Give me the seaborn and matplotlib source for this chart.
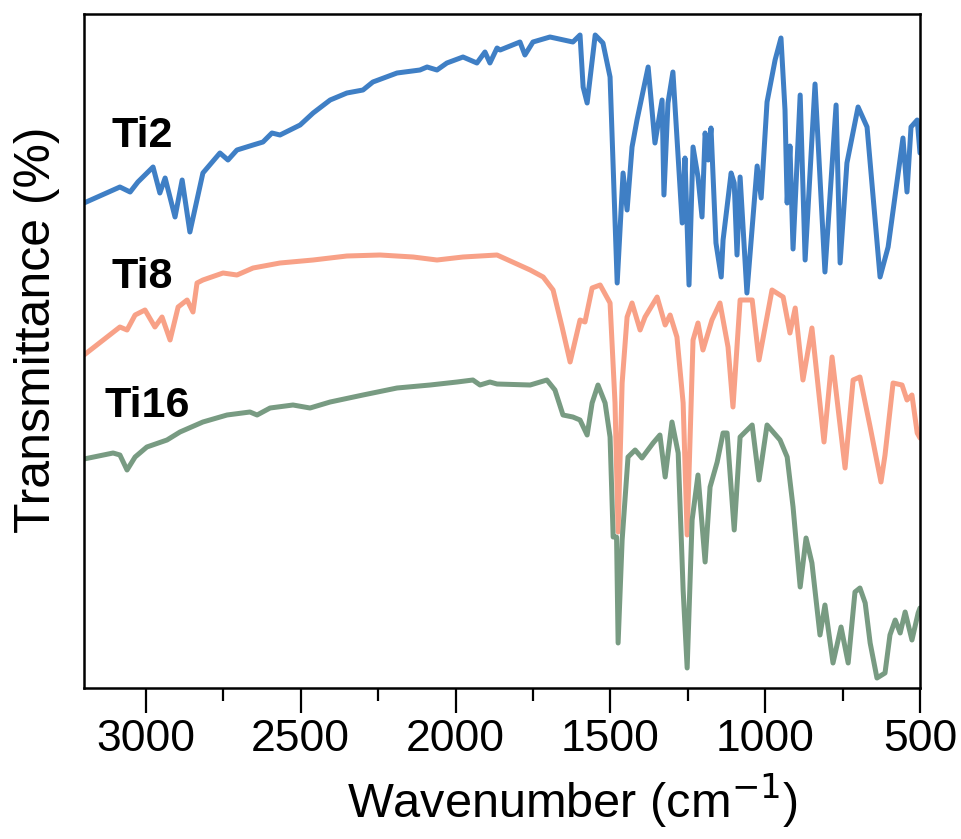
import numpy as np
import pandas as pd
import matplotlib
matplotlib.use("Agg")
import matplotlib.pyplot as plt
import seaborn as sns

# ---------------- data (arbitrary units) ----------------
ti2_wn = [3200, 3084, 3051, 3026, 2977, 2955, 2938, 2906, 2883, 2858, 2816, 2761, 2735, 2706,
          2654, 2622, 2593, 2567, 2502, 2460, 2405, 2351, 2299, 2267, 2189, 2115, 2092, 2060,
          2028, 1976, 1931, 1905, 1889, 1866, 1856, 1792, 1776, 1750, 1695, 1621, 1598, 1588,
          1575, 1549, 1524, 1501, 1478, 1459, 1446, 1430, 1414, 1378, 1356, 1333, 1327, 1314,
          1298, 1268, 1259, 1246, 1233, 1217, 1204, 1194, 1184, 1175, 1159, 1142, 1136, 1110,
          1100, 1091, 1081, 1059, 1026, 1013, 994, 968, 949, 936, 929, 920, 910, 887, 871, 839,
          807, 771, 758, 736, 700, 671, 629, 603, 555, 542, 529, 509, 500]
ti2_t = [485, 501, 496, 506, 521, 495, 510, 471, 508, 456, 515, 535, 528, 538,
         543, 546, 555, 553, 563, 575, 588, 595, 598, 606, 615, 618, 621, 618,
         625, 631, 625, 636, 625, 640, 638, 646, 633, 646, 651, 646, 653, 601,
         585, 653, 645, 611, 405, 515, 478, 541, 568, 621, 545, 588, 493, 585,
         616, 465, 530, 403, 541, 511, 471, 555, 528, 560, 445, 411, 448, 515,
         505, 433, 511, 395, 522, 490, 586, 628, 650, 578, 485, 542, 439, 593, 428, 604,
         416, 583, 425, 525, 581, 561, 411, 441, 550, 496, 561, 568, 535]

ti8_wn = [3200, 3084, 3061, 3035, 3003, 2971, 2948, 2922, 2896, 2867, 2848, 2835, 2816, 2751,
          2706, 2654, 2567, 2460, 2351, 2244, 2137, 2060, 1976, 1866, 1759, 1717, 1685, 1656,
          1630, 1598, 1582, 1559, 1533, 1501, 1485, 1475, 1462, 1446, 1430, 1404, 1388, 1349,
          1323, 1307, 1285, 1265, 1252, 1233, 1217, 1201, 1172, 1146, 1120, 1104, 1081, 1042,
          1020, 978, 942, 920, 903, 878, 849, 810, 784, 742, 716, 694, 661, 626, 613, 587,
          558, 542, 526, 509, 500]
ti8_t = [333, 361, 358, 373, 378, 361, 371, 348, 381, 388, 376, 405, 408, 415,
         413, 420, 425, 428, 432, 433, 431, 428, 431, 433, 418, 411, 398, 361,
         326, 368, 366, 400, 403, 385, 285, 156, 305, 371, 385, 358, 371, 391,
         363, 373, 351, 285, 153, 348, 365, 338, 368, 385, 341, 281, 388, 388,
         328, 398, 391, 355, 380, 308, 360, 246, 331, 220, 308, 311, 261, 206, 233, 305,
         303, 288, 293, 255, 250]

ti16_wn = [3200, 3106, 3084, 3061, 3035, 2997, 2932, 2890, 2816, 2738, 2664, 2641, 2599, 2525,
           2470, 2405, 2299, 2189, 2082, 1995, 1944, 1921, 1889, 1866, 1759, 1705, 1679, 1653,
           1621, 1598, 1575, 1559, 1540, 1517, 1501, 1491, 1480, 1475, 1462, 1443, 1420, 1398,
           1362, 1340, 1323, 1301, 1281, 1265, 1252, 1236, 1217, 1194, 1178, 1155, 1136, 1123,
           1100, 1081, 1042, 1020, 994, 952, 929, 910, 887, 868, 849, 823, 807, 781, 755, 732,
           710, 694, 677, 661, 639, 613, 597, 580, 564, 548, 526, 506, 500]
ti16_t = [229, 235, 233, 218, 231, 241, 248, 256, 266, 273, 276, 273, 280, 283,
          280, 286, 293, 300, 303, 306, 308, 303, 306, 304, 303, 308, 298, 273,
          271, 268, 253, 285, 303, 285, 251, 151, 151, 45, 148, 231, 238, 230,
          245, 253, 211, 266, 235, 98, 20, 168, 213, 126, 201, 226, 255, 255,
          158, 251, 263, 208, 263, 248, 231, 181, 101, 150, 125, 53, 83, 25, 61, 25,
          96, 100, 85, 45, 10, 15, 53, 68, 55, 76, 48, 75, 80]

samples = ["Ti2", "Ti8", "Ti16"]
colors = ["#3f7fc5", "#f8a187", "#789b82"]
x_ticks = [3000, 2500, 2000, 1500, 1000, 500]
x_minor = [2750, 2250, 1750, 1250, 750]
label_pos = {"Ti2": (3110, 552), "Ti8": (3110, 411), "Ti16": (3135, 282)}

# ---------------- build long table ----------------
df = pd.concat([
    pd.DataFrame({"wn": ti2_wn, "T": ti2_t, "sample": "Ti2"}),
    pd.DataFrame({"wn": ti8_wn, "T": ti8_t, "sample": "Ti8"}),
    pd.DataFrame({"wn": ti16_wn, "T": ti16_t, "sample": "Ti16"}),
], ignore_index=True)

sns.set_theme(style="ticks")
plt.rcParams["font.family"] = ["Liberation Sans", "DejaVu Sans"]
plt.rcParams["text.color"] = "black"
plt.rcParams["axes.labelcolor"] = "black"
plt.rcParams["xtick.color"] = "black"
plt.rcParams["ytick.color"] = "black"

fig = plt.figure(figsize=(9.62, 8.39), dpi=100)
ax = fig.add_axes([84 / 962, 1 - 688 / 839, (920 - 84) / 962, (688 - 14) / 839])

sns.lineplot(data=df, x="wn", y="T", hue="sample", hue_order=samples,
             palette=dict(zip(samples, colors)), estimator=None, sort=True,
             linewidth=3.6, legend=False, ax=ax)
for ln in ax.lines:
    ln.set_solid_joinstyle("round")
    ln.set_solid_capstyle("round")

ax.set_xlim(3200, 500)
ax.set_ylim(0, 674)
ax.set_xticks(x_ticks)
ax.set_xticklabels([str(t) for t in x_ticks])
ax.set_xticks(x_minor, minor=True)
ax.set_yticks([])

ax.tick_params(axis="x", which="major", direction="out", length=18, width=1.6,
               labelsize=32, pad=4, colors="black")
ax.tick_params(axis="x", which="minor", direction="out", length=9, width=1.6)
for s in ax.spines.values():
    s.set_visible(True)
    s.set_linewidth(1.8)
    s.set_color("black")

ax.set_xlabel("Wavenumber (cm$^{-1}$)", fontsize=35)
ax.xaxis.set_label_coords((572 - 84) / 836, (688 - 772) / 674)
ax.set_ylabel("Transmittance (%)", fontsize=36)
ax.yaxis.set_label_coords((60 - 84) / 836, (688 - 330) / 674)

# sample labels
for name in samples:
    x, y = label_pos[name]
    ax.text(x, y, name, fontsize=31, fontweight="bold", ha="left", va="center", color="black")

fig.savefig("out.png", dpi=100)
